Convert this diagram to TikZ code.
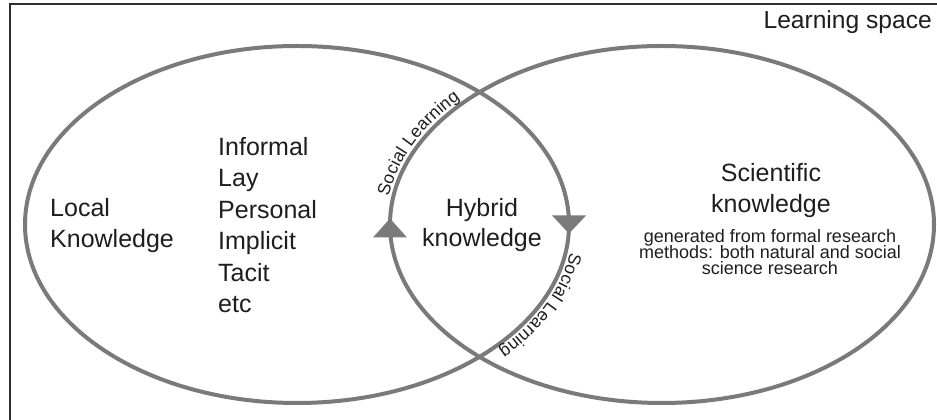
\documentclass[tikz,border=0pt]{standalone}
\usepackage{fontspec}
\setmainfont{Liberation Sans}
\usetikzlibrary{shapes.geometric,decorations.text}
\definecolor{ringgray}{HTML}{7A7A7A}
\definecolor{txt}{HTML}{1E1E1E}
\definecolor{framec}{HTML}{2E2E2E}
\begin{document}
\begin{tikzpicture}[x=1pt,y=1pt,
  ring/.style={ellipse, draw=ringgray, line width=4pt, minimum width=544pt,
    minimum height=357pt, inner sep=0pt, outer sep=0pt},
  big/.style={font=\fontsize{25}{30}\selectfont, text=txt, inner sep=0pt},
  title/.style={font=\fontsize{24.6}{29}\selectfont, text=txt, inner sep=0pt},
  small/.style={font=\fontsize{18}{18}\selectfont, text=txt, inner sep=0pt},
  tipfill/.style={fill=ringgray},
  sl/.style={decorate, decoration={text along path,
    text={|\fontsize{17.5}{17.5}\selectfont|Social Learning},
    text color=txt, text align=center, raise=4.5pt}}
]
\clip (0,0) rectangle (937,420);
\fill[white] (0,0) rectangle (937,420);
\draw[framec, line width=2.6pt] (10,-10) -- (10,416) -- (950,416);

\node[ring] (L) at (297,195.5) {};
\node[ring] (R) at (662,195.5) {};

% arrowheads
\fill[tipfill] ([shift={(0,6)}]R.west) -- ([shift={(-17,-13)}]R.west)
  -- ([shift={(17,-13)}]R.west) -- cycle;
\fill[tipfill] ([shift={(0,-9)}]L.east) -- ([shift={(-17,9)}]L.east)
  -- ([shift={(17,9)}]L.east) -- cycle;

% curved labels
\path[sl] ([shift={(186:272pt and 178.5pt)}]R.center)
  arc[start angle=186, end angle=126, x radius=272pt, y radius=178.5pt];
\path[sl] ([shift={(6:272pt and 178.5pt)}]L.center)
  arc[start angle=6, end angle=-54, x radius=272pt, y radius=178.5pt];

% texts
\node[title, anchor=base east] (space) at (932,391) {Learning space};

\node[big, anchor=base west] (loc1) at (50,203) {Local};
\node[big, anchor=base west] (loc2) at (50,172) {Knowledge};

\node[big, anchor=base west] (li1) at (218,264) {Informal};
\node[big, anchor=base west] (li2) at (218,233) {Lay};
\node[big, anchor=base west] (li3) at (218,201) {Personal};
\node[big, anchor=base west] (li4) at (218,170) {Implicit};
\node[big, anchor=base west] (li5) at (218,138) {Tacit};
\node[big, anchor=base west] (li6) at (218,107) {etc};

\node[big, anchor=base] (hy1) at (482,203) {Hybrid};
\node[big, anchor=base] (hy2) at (482,173) {knowledge};

\node[big, anchor=base] (sc1) at (771,238) {Scientific};
\node[big, anchor=base] (sc2) at (771,207) {knowledge};
\node[small, anchor=base] (sm1) at (770,177) {generated from formal research};
\node[small, anchor=base] (sm2) at (770,161) {methods: both natural and social};
\node[small, anchor=base] (sm3) at (770,145.5) {science research};
\end{tikzpicture}
\end{document}
